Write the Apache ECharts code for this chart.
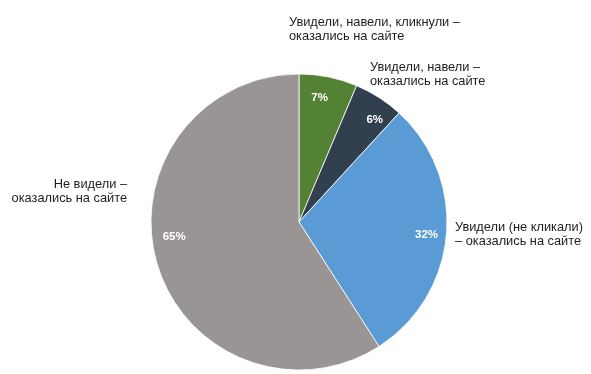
<!DOCTYPE html>
<html>
<head>
<meta charset="utf-8">
<script src="https://cdn.jsdelivr.net/npm/echarts@6/dist/echarts.min.js"></script>
<style>
  html, body { margin: 0; padding: 0; background: #fff; }
  #chart { width: 591px; height: 374px; }
</style>
</head>
<body>
<div id="chart"></div>
<script>
const categories = [
  'Увидели, навели, кликнули –\nоказались на сайте',
  'Увидели, навели –\nоказались на сайте',
  'Увидели (не кликали)\n– оказались на сайте',
  'Не видели –\nоказались на сайте'
];
const values = [7, 6, 32, 65];
const colors = ['#548235', '#323F4F', '#5B9BD5', '#989594'];

const pieData = categories.map((name, i) => ({ name: name, value: values[i] }));

// text placement of the category labels (left/right anchor, top of first line)
const outsideLabelPos = [
  { x: 289, y: 15, align: 'left' },
  { x: 370, y: 60, align: 'left' },
  { x: 455, y: 220, align: 'left' },
  { x: 127, y: 177, align: 'right' }
];
const insideNudge = [
  { dx: -5, dy: 2 },
  { dx: 6, dy: 6 },
  { dx: -1, dy: 2 },
  { dx: -1, dy: -22 }
];

const chart = echarts.init(document.getElementById('chart'), null, { renderer: 'canvas' });
const FONT = '"Liberation Sans", Arial, sans-serif';
chart.setOption({
  animation: false,
  backgroundColor: '#ffffff',
  color: colors,
  series: [
    {
      type: 'pie',
      center: [299, 222],
      radius: [0, 148],
      startAngle: 90,
      clockwise: true,
      avoidLabelOverlap: false,
      silent: true,
      itemStyle: { borderColor: '#ffffff', borderWidth: 0.8 },
      label: {
        show: true,
        position: 'outside',
        formatter: '{b}',
        fontFamily: FONT,
        fontSize: 12.8,
        lineHeight: 14,
        color: '#1e1e1e'
      },
      labelLine: { show: false },
      labelLayout: function (p) {
        const pos = outsideLabelPos[p.dataIndex];
        return { x: pos.x, y: pos.y, align: pos.align, verticalAlign: 'top', hideOverlap: false };
      },
      data: pieData
    },
    {
      type: 'pie',
      center: [299, 222],
      radius: [104, 148],
      startAngle: 90,
      clockwise: true,
      silent: true,
      avoidLabelOverlap: false,
      itemStyle: { color: 'rgba(0,0,0,0)', borderWidth: 0 },
      label: {
        show: true,
        position: 'inside',
        formatter: function (p) { return p.value + '%'; },
        fontFamily: FONT,
        fontSize: 11.5,
        fontWeight: 'bold',
        color: '#ffffff'
      },
      labelLine: { show: false },
      labelLayout: function (p) {
        const n = insideNudge[p.dataIndex];
        return { dx: n.dx, dy: n.dy, hideOverlap: false };
      },
      data: pieData
    }
  ]
});
</script>
</body>
</html>
